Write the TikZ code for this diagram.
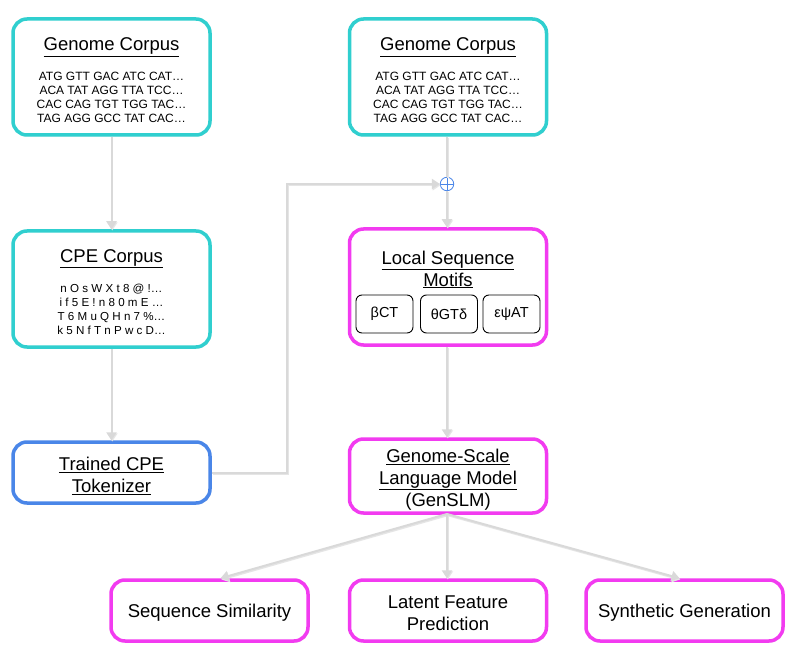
\documentclass[tikz,border=0pt]{standalone}
\usepackage{fontspec}
\setmainfont{Liberation Sans}
\usetikzlibrary{arrows.meta,shadows}
\definecolor{cyanb}{HTML}{30CFCF}
\definecolor{magb}{HTML}{F23BF0}
\definecolor{blueb}{HTML}{4A86E8}
\definecolor{edgec}{HTML}{D9D9D9}
\tikzset{
  box/.style={draw, rounded corners=14pt, line width=3.5pt, fill=white,
    minimum width=197pt, inner sep=0pt,
    drop shadow={opacity=0.22, shadow xshift=1pt, shadow yshift=-1.5pt}},
  cbox/.style={box, draw=cyanb, minimum height=116pt},
  mbox/.style={box, draw=magb},
  bbox/.style={box, draw=blueb, minimum height=61pt},
  motif/.style={draw=black, line width=0.9pt, rounded corners=6pt, fill=white,
    minimum width=57pt, minimum height=38pt, inner sep=0pt,
    font=\fontsize{14.5}{16}\selectfont},
  ttl/.style={align=center, inner sep=0pt, font=\fontsize{18.5}{22}\selectfont},
  seq/.style={align=center, inner sep=0pt, font=\fontsize{12}{14}\selectfont},
  cpes/.style={align=center, inner sep=0pt, font=\fontsize{11.6}{14}\selectfont},
  edge/.style={draw=edgec, line width=2pt,
    preaction={draw=black!10, line width=2pt, transform canvas={shift={(0.8pt,-1.2pt)}}}},
  arr/.style={edge, -{Triangle[width=10pt,length=8pt,fill=edgec]}},
  plusn/.style={circle, draw=blueb, line width=0.8pt, minimum size=13.5pt, inner sep=0pt,
    path picture={\draw[blueb, line width=0.8pt]
      (path picture bounding box.north) -- (path picture bounding box.south)
      (path picture bounding box.west) -- (path picture bounding box.east);}}
}
\begin{document}
\begin{tikzpicture}[x=1pt,y=-1pt]
\useasboundingbox[fill=white] (0,0) rectangle (793,655);

% left column
\node[cbox] (gc1) at (111.5,77) {};
\node[ttl] (gc1t) at (111.5,47) {\underline{Genome Corpus}};
\node[seq] (gc1s) at (111.5,97) {ATG GTT GAC ATC CAT\ldots\\ACA TAT AGG TTA TCC\ldots\\CAC CAG TGT TGG TAC\ldots\\TAG AGG GCC TAT CAC\ldots};

\node[cbox] (cpe) at (111.5,289) {};
\node[ttl] (cpet) at (111.5,258.5) {\underline{CPE Corpus}};
\node[cpes] (cpes) at (111.5,309) {n O s W X t 8 @ !\ldots\\i f 5 E ! n 8 0 m E \ldots\\T 6 M u Q H n 7 \%\ldots\\k 5 N f T n P w c D\ldots};

\node[bbox] (tok) at (111.5,472.5) {};
\node[ttl] (tokt) at (111.5,476) {\underline{Trained CPE}\\\underline{Tokenizer}};

% right column
\node[cbox] (gc2) at (448,77) {};
\node[ttl] (gc2t) at (448,47) {\underline{Genome Corpus}};
\node[seq] (gc2s) at (448,97) {ATG GTT GAC ATC CAT\ldots\\ACA TAT AGG TTA TCC\ldots\\CAC CAG TGT TGG TAC\ldots\\TAG AGG GCC TAT CAC\ldots};

\node[plusn] (plus) at (447,184) {};

\node[mbox, minimum height=116pt] (lsm) at (448,287) {};
\node[ttl] (lsmt) at (448,269.5) {\underline{Local Sequence}\\\underline{Motifs}};
\node[motif] (m1) at (384.5,314) {βCT};
\node[motif] (m2) at (449,314) {θGTδ};
\node[motif] (m3) at (511.5,314) {εψAT};

\node[mbox, minimum height=74pt] (slm) at (448,476) {};
\node[ttl] (slmt) at (448,479.5) {\underline{Genome-Scale}\\\underline{Language Model}\\(GenSLM)};

% bottom row
\node[mbox, minimum height=61pt] (ss) at (209.5,610.5) {};
\node[ttl] (sst) at (209.5,613) {Sequence Similarity};
\node[mbox, minimum height=61pt] (lfp) at (448,610.5) {};
\node[ttl] (lfpt) at (448,613) {Latent Feature\\Prediction};
\node[mbox, minimum height=61pt] (sg) at (684.5,610.5) {};
\node[ttl] (sgt) at (684.5,613) {Synthetic Generation};

% connectors
\draw[arr] (gc1) -- (cpe);
\draw[arr] (cpe) -- (tok);
\coordinate (bend) at (287,184);
\draw[arr] (tok.east) -| (bend) -- (plus.west);
\draw[edge] (gc2.south -| plus) -- (plus.north);
\draw[arr] (plus.south) -- (lsm.north -| plus);
\draw[arr] (lsm.south -| plus) -- (slm.north -| plus);
\coordinate (fork) at (447,514);
\draw[arr] (fork) -- ([xshift=11pt]ss.north);
\draw[arr] (fork) -- (lfp.north -| fork);
\draw[arr] (fork) -- ([xshift=-5pt]sg.north);
\end{tikzpicture}
\end{document}
